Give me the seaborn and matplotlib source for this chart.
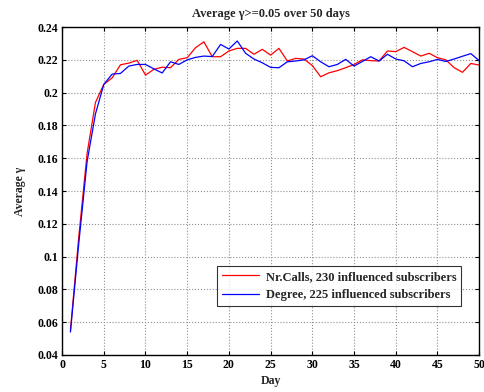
import matplotlib
matplotlib.use("Agg")
import matplotlib.pyplot as plt
import seaborn as sns
import pandas as pd
import numpy as np

days = list(range(1, 51))
red_label = "Nr.Calls, 230 influenced subscribers"
blue_label = "Degree, 225 influenced subscribers"
red_vals = [0.055, 0.112, 0.163, 0.194, 0.205, 0.209, 0.217, 0.218, 0.2197, 0.2107,
            0.2142, 0.2155, 0.2152, 0.2203, 0.2213, 0.2274, 0.231, 0.2219, 0.2219, 0.2254,
            0.227, 0.227, 0.2234, 0.2264, 0.2229, 0.227, 0.2193, 0.2209, 0.2205, 0.2165,
            0.2097, 0.2121, 0.2134, 0.2152, 0.2172, 0.22, 0.2195, 0.2193, 0.2254, 0.225,
            0.2276, 0.225, 0.2223, 0.224, 0.2213, 0.22, 0.2152, 0.2124, 0.2178, 0.2168]
blue_vals = [0.054, 0.108, 0.158, 0.187, 0.205, 0.2113, 0.2117, 0.2162, 0.2172, 0.2172,
             0.2145, 0.212, 0.2188, 0.2172, 0.22, 0.2215, 0.2223, 0.222, 0.2294, 0.2266,
             0.2315, 0.224, 0.2205, 0.2182, 0.2154, 0.2152, 0.2188, 0.2193, 0.22, 0.2225,
             0.2188, 0.2158, 0.2172, 0.2203, 0.2162, 0.219, 0.2219, 0.2193, 0.2234, 0.2205,
             0.2194, 0.2158, 0.2178, 0.2188, 0.2203, 0.219, 0.2205, 0.2222, 0.2238, 0.2195]
x_ticks = [0, 5, 10, 15, 20, 25, 30, 35, 40, 45, 50]
y_ticks = [0.04, 0.06, 0.08, 0.1, 0.12, 0.14, 0.16, 0.18, 0.2, 0.22, 0.24]
y_tick_labels = ["0.04", "0.06", "0.08", "0.1", "0.12", "0.14", "0.16", "0.18", "0.2", "0.22", "0.24"]

df = pd.DataFrame({
    "Day": days * 2,
    "value": red_vals + blue_vals,
    "series": [red_label] * len(days) + [blue_label] * len(days),
})

sns.set_style("white")
plt.rcParams['font.family'] = ['Liberation Serif', 'DejaVu Serif']
plt.rcParams['font.weight'] = 'bold'

fig = plt.figure(figsize=(4.85, 3.92), dpi=100)
ax = fig.add_axes([0.128, 0.0944, 0.860, 0.8366])

sns.lineplot(data=df, x="Day", y="value", hue="series",
             palette={red_label: "#ff0000", blue_label: "#0000ff"},
             linewidth=0.9, ax=ax, legend=True)

ax.set_xlim(0, 50)
ax.set_ylim(0.04, 0.24)
ax.set_xticks(x_ticks)
ax.set_xticklabels([str(t) for t in x_ticks], fontsize=8.5, fontweight='bold')
ax.set_yticks(y_ticks)
ax.set_yticklabels(y_tick_labels, fontsize=8.5, fontweight='bold')
ax.tick_params(direction='in', length=3, width=0.8, top=True, right=True,
               bottom=True, left=True, pad=3, colors='black')
ax.grid(True, linestyle=':', color='#909090', linewidth=0.8)
for s in ax.spines.values():
    s.set_color('black')
    s.set_linewidth(1.0)

ax.set_title("Average \u03b3>=0.05 over 50 days", fontsize=9, fontweight='bold', pad=7)
ax.set_xlabel("Day", fontsize=8.5, fontweight='bold', labelpad=3)
ax.set_ylabel("Average \u03b3", fontsize=8.5, fontweight='bold', labelpad=8)

leg = ax.legend(loc='lower right', bbox_to_anchor=(0.972, 0.13), fontsize=9,
                frameon=True, fancybox=False, borderpad=0.4, handlelength=3.0,
                labelspacing=0.5, handletextpad=0.5)
leg.get_frame().set_edgecolor('black')
leg.get_frame().set_linewidth(0.8)
for t in leg.get_texts():
    t.set_fontweight('bold')

fig.savefig("out.png", dpi=100)
